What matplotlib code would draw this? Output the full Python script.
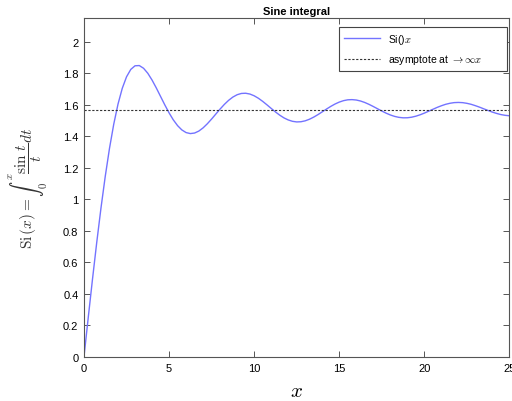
import matplotlib

matplotlib.use("Agg")
import matplotlib.pyplot as plt
from matplotlib.ticker import FormatStrFormatter


x_vals = [0.0, 0.25, 0.5, 0.75, 1.0, 1.25, 1.5, 1.75, 2.0, 2.25,
          2.5, 2.75, 3.0, 3.25, 3.5, 3.75, 4.0, 4.25, 4.5, 4.75,
          5.0, 5.25, 5.5, 5.75, 6.0, 6.25, 6.5, 6.75, 7.0, 7.25,
          7.5, 7.75, 8.0, 8.25, 8.5, 8.75, 9.0, 9.25, 9.5, 9.75,
          10.0, 10.25, 10.5, 10.75, 11.0, 11.25, 11.5, 11.75, 12.0, 12.25,
          12.5, 12.75, 13.0, 13.25, 13.5, 13.75, 14.0, 14.25, 14.5, 14.75,
          15.0, 15.25, 15.5, 15.75, 16.0, 16.25, 16.5, 16.75, 17.0, 17.25,
          17.5, 17.75, 18.0, 18.25, 18.5, 18.75, 19.0, 19.25, 19.5, 19.75,
          20.0, 20.25, 20.5, 20.75, 21.0, 21.25, 21.5, 21.75, 22.0, 22.25,
          22.5, 22.75, 23.0, 23.25, 23.5, 23.75, 24.0, 24.25, 24.5, 24.75, 25.0]
si_vals = [0.0, 0.2491, 0.4931, 0.7270, 0.9461, 1.1464, 1.3247, 1.4782, 1.6054, 1.7055,
           1.7785, 1.8256, 1.8487, 1.8502, 1.8331, 1.8012, 1.7582, 1.7080, 1.6541, 1.6004,
           1.5499, 1.5053, 1.4688, 1.4416, 1.4247, 1.4183, 1.4218, 1.4343, 1.4546, 1.4808,
           1.5107, 1.5426, 1.5742, 1.6037, 1.6295, 1.6502, 1.6650, 1.6731, 1.6744, 1.6693,
           1.6583, 1.6425, 1.6229, 1.6010, 1.5782, 1.5559, 1.5354, 1.5180, 1.5050, 1.4962,
           1.4923, 1.4935, 1.4993, 1.5094, 1.5229, 1.5388, 1.5562, 1.5739, 1.5908, 1.6059,
           1.6182, 1.6273, 1.6327, 1.6339, 1.6314, 1.6251, 1.6157, 1.6038, 1.5902, 1.5758,
           1.5615, 1.5481, 1.5366, 1.5275, 1.5214, 1.5184, 1.5187, 1.5222, 1.5287, 1.5376,
           1.5482, 1.5603, 1.5724, 1.5844, 1.5949, 1.6041, 1.6106, 1.6149, 1.6160, 1.6147,
           1.6104, 1.6041, 1.5954, 1.5858, 1.5751, 1.5648, 1.5546, 1.5461, 1.5389, 1.5342, 1.5314]
asymptote_x = [0.0, 25.0]
asymptote_y = [1.5708, 1.5708]

y_ticks = [0.0, 0.2, 0.4, 0.6, 0.8, 1.0, 1.2, 1.4, 1.6, 1.8, 2.0]
x_ticks = [0, 5, 10, 15, 20, 25]


def main() -> None:
    plt.rcParams["font.family"] = ["Liberation Sans", "DejaVu Sans"]
    plt.rcParams["mathtext.fontset"] = "cm"

    fig = plt.figure(figsize=(5.12, 4.02), dpi=100)
    ax = fig.add_axes([0.164, 0.1095, 0.831, 0.8432])

    ax.plot(x_vals, si_vals, color="#7373ff", linewidth=1.0, label=r"Si()$x$")
    ax.plot(asymptote_x, asymptote_y, color="#333333", linewidth=0.8,
            linestyle=(0, (2, 1.5)), label=r"asymptote at $\to\infty x$")

    ax.set_xlim(0, 25)
    ax.set_ylim(0, 2.152)
    ax.set_xticks(x_ticks)
    ax.set_yticks(y_ticks)
    ax.yaxis.set_major_formatter(FormatStrFormatter("%g"))
    ax.tick_params(direction="in", length=4, width=0.7, color="#555555",
                   labelsize=8, top=True, right=True, pad=4)
    for spine in ax.spines.values():
        spine.set_color("#555555")
        spine.set_linewidth(0.8)

    ax.set_title("Sine integral", fontsize=8, fontweight="bold", pad=3)
    ax.set_xlabel(r"$x$", fontsize=15, labelpad=6)
    ax.set_ylabel(r"$\mathrm{Si}\,(x) = \int_0^x \dfrac{\sin\,t}{t} dt$",
                  fontsize=11, labelpad=9, color="#333333")

    leg = ax.legend(loc="upper left", fontsize=7.5, fancybox=False,
                    framealpha=1, edgecolor="#444444", borderpad=0.45,
                    handlelength=3.5, handletextpad=0.8, labelspacing=0.65,
                    borderaxespad=0, mode="expand",
                    bbox_to_anchor=(0.599, 0.8496, 0.395, 0.1239))
    leg.get_frame().set_linewidth(0.8)

    fig.savefig("out.png", dpi=100)
    plt.close(fig)


if __name__ == "__main__":
    main()
